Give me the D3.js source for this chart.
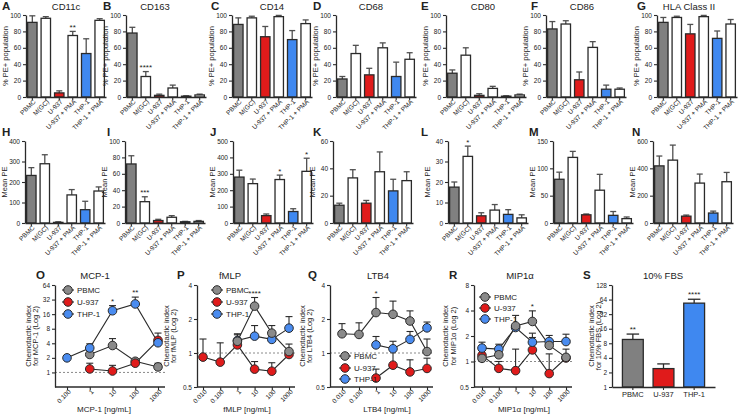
<!DOCTYPE html>
<html><head><meta charset="utf-8">
<script src="https://cdn.jsdelivr.net/npm/d3@7"></script>
<style>
body{margin:0;background:#fff}
svg{display:block}
text{font-family:"Liberation Sans Narrow","Arial Narrow","Liberation Sans",Arial,sans-serif;fill:#222}
</style>
</head><body>
<svg id="c" width="740" height="417"></svg>
<script>
// ---------- DATA ----------
const barCategories = ["PBMC","M(GC)","U-937","U-937 + PMA","THP-1","THP-1 + PMA"];
const topTitles = ["CD11c","CD163","CD14","CD68","CD80","CD86","HLA Class II"];
const topLetters = ["A","B","C","D","E","F","G"];
const midLetters = ["H","I","J","K","L","M","N"];

const cd11c = [91,96,5,75,53,93.5],    cd11cErr = [8,2,2.5,5,18,2];
const cd163 = [78,25,2,11,1,2.5],      cd163Err = [7,6,1.5,3.5,0.5,1];
const cd14  = [88.5,96.5,73.5,98,70,89.5], cd14Err = [8,2,12.5,1.5,11,4.5];
const cd68  = [22,53,27,60,25,46],     cd68Err = [3,10,8,6,17.5,8];
const cd80  = [29,51,2,10.5,1,2.5],    cd80Err = [4,9,2,2.5,0.5,1];
const cd86  = [83,89,21,60.5,9.5,9.5], cd86Err = [9,4,9.5,7,5,1.5];
const hla   = [91,97,77,98,71.5,89],   hlaErr = [6,1.5,11.5,1.5,9,5.5];

const mfiH = [232,289,3,137,65,156],   mfiHErr = [38,44,3,26,41,20];
const mfiI = [72,26,3,7,1.5,2],        mfiIErr = [10,6,1.5,2,0.5,1];
const mfiJ = [280,240,45,265,70,315],  mfiJErr = [42,28,10,27,17,80];
const mfiK = [13,33,14.5,37.5,23.5,31],mfiKErr = [1.5,6,2,14.5,8.5,6.5];
const mfiL = [17.5,32.5,3.5,6.3,4.2,2.5], mfiLErr = [2.5,5,1.5,2.7,2.3,1.5];
const mfiM = [80,120,15,60,14,8],      mfiMErr = [13,11,1.5,29,7,3];
const mfiN = [418,460,50,292,73,302],  mfiNErr = [72,110,8,66,14,68];

const pctTicks = [0,20,40,60,80,100];
const ticksH = [0,100,200,300,400], ticksI = [0,20,40,60,80,100], ticksJ = [0,100,200,300,400,500];
const ticksK = [0,20,40,60], ticksL = [0,10,20,30,40], ticksM = [0,50,100,150], ticksN = [0,200,400,600];

const sigA = ["","","","**","",""], sigB = ["","****","","","",""];
const sigI = ["","***","","","",""], sigJ = ["","","","*","","*"], sigL = ["","*","","","",""];
const noSig = ["","","","","",""];

const seriesNames = ["PBMC","U-937","THP-1"];
const dosesMCP = ["0.100","1","10","100","1000"];
const dosesFull = ["0.010","0.100","1","10","100","1000"];

const mcpPBMC = [null,2.35,3.6,1.7,1.3],  mcpPBMCHi = [null,2.9,5,1.9,1.55];
const mcpU937 = [null,1.18,1.07,1.55,4.6], mcpU937Hi = [null,1.55,1.4,1.6,6.5];
const mcpTHP1 = [2.0,3.2,18.8,26,4.1],     mcpTHP1Hi = [2.1,3.9,24,36,4.3];
const mcpSig = ["","","*","**",""];

const fmlpPBMC = [null,null,1.27,2.6,1.5,1.03], fmlpPBMCHi = [null,null,1.48,3.1,1.75,1.2];
const fmlpU937 = [0.92,0.83,1.18,0.72,0.69,0.97], fmlpU937Hi = [1.33,1.23,1.25,0.84,0.82,1.0];
const fmlpTHP1 = [null,null,1.29,1.41,1.32,1.66], fmlpTHP1Hi = [null,null,1.45,1.75,1.5,2.1];
const fmlpSig = ["","","","****","",""];

const ltbPBMC = [1.48,1.46,2.28,2.2,1.92,1.03], ltbPBMCHi = [1.82,1.85,3.1,2.88,2.36,1.33];
const ltbU937 = [null,null,0.6,0.78,0.68,0.73], ltbU937Hi = [null,null,0.72,1.05,0.87,0.9];
const ltbTHP1 = [null,null,1.18,1.09,1.32,1.67], ltbTHP1Hi = [null,null,1.4,1.27,1.55,1.88];
const ltbSig = ["","","*","","",""];

const mipPBMC = [1.09,1.2,2.63,2.97,1.55,1.12], mipPBMCHi = [1.2,1.4,3.5,3.96,1.8,1.4];
const mipU937 = [1.18,0.83,0.78,1.37,0.72,1.1], mipU937Hi = [1.25,1.0,1.4,1.92,1.23,1.1];
const mipTHP1 = [1.44,1.4,2.52,1.69,1.72,1.72], mipTHP1Hi = [1.69,1.6,2.6,2.16,2.03,2.1];
const mipSig = ["","","","*","",""];

const fbsCategories = ["PBMC","U-937","THP-1"];
const fbsValues = [9.6,2.4,54], fbsHi = [12.4,3.0,65];
const fbsSig = ["**","","****"];

// ---------- STYLE ----------
const barFill = ["#808080","#ffffff","#e01b1b","#ffffff","#3f88f0","#ffffff"];
const seriesFill = {"PBMC":"#8a8a8a","U-937":"#e01b1b","THP-1":"#4a8cf0"};
const ink = "#2a2a2a";

const svg = d3.select("#c");

function styleAxis(sel, fs){
  sel.attr("font-family",null).attr("font-size",null);
  sel.selectAll(".domain").attr("stroke",ink).attr("stroke-width",1.3);
  sel.selectAll(".tick line").attr("stroke",ink).attr("stroke-width",1.1);
  sel.selectAll(".tick text").attr("font-size",fs).attr("fill",ink);
}

function label(x,y,t,fs,opts={}){
  const el = svg.append("text").attr("x",x).attr("y",y).attr("font-size",fs).text(t)
    .attr("text-anchor",opts.anchor||"middle");
  if(opts.bold) el.attr("font-weight","bold");
  if(opts.rot) el.attr("transform",`rotate(${opts.rot},${x},${y})`);
  return el;
}

function barPanel(o){
  const g = svg.append("g");
  const x = d3.scaleBand().domain(barCategories).range([o.x0,o.x0+80]).paddingInner(0.3).paddingOuter(0.12);
  const y = d3.scaleLinear().domain([0,o.max]).range([o.yBot,o.yTop]);
  const bw = x.bandwidth();
  o.means.forEach((m,i)=>{
    const cx = x(barCategories[i])+bw/2, top = m+o.errs[i];
    g.append("line").attr("x1",cx).attr("x2",cx).attr("y1",y(m)).attr("y2",y(top)).attr("stroke","#505050").attr("stroke-width",1.3);
    g.append("line").attr("x1",cx-bw*0.32).attr("x2",cx+bw*0.32).attr("y1",y(top)).attr("y2",y(top)).attr("stroke","#505050").attr("stroke-width",1.3);
    if(o.sig[i]) g.append("text").attr("x",cx).attr("y",y(top)-1.5).attr("text-anchor","middle").attr("font-size",8).text(o.sig[i]);
  });
  g.selectAll("rect").data(o.means).join("rect")
    .attr("x",(d,i)=>x(barCategories[i])).attr("y",d=>y(d)).attr("width",bw).attr("height",d=>o.yBot-y(d))
    .attr("fill",(d,i)=>barFill[i]).attr("stroke",ink).attr("stroke-width",1.3);
  const ya = g.append("g").attr("transform",`translate(${o.x0},0)`)
    .call(d3.axisLeft(y).tickValues(o.ticks).tickSize(3).tickSizeOuter(0).tickPadding(2));
  styleAxis(ya,6.5);
  const xa = g.append("g").attr("transform",`translate(0,${o.yBot})`)
    .call(d3.axisBottom(x).tickSize(3).tickSizeOuter(0));
  styleAxis(xa,6.5);
  xa.selectAll(".tick text").attr("x",-1).attr("y",4).attr("dy","0.35em")
    .attr("text-anchor","end").attr("transform","rotate(-45)");
  label(o.x0-18,(o.yTop+o.yBot)/2,o.yLabel,7.5,{rot:-90});
  if(o.title) label(o.titleX,10,o.title,9.5);
  label(o.letterX,o.letterY,o.letter,11.5,{anchor:"start",bold:true});
}

const topX0 = [26,126,232,336,446,546,657];
const topTitleX = [66,155,272,371,483,582,689];
const topLetterX = [2,103,211,313,421,531,637];
const topMeans = [cd11c,cd163,cd14,cd68,cd80,cd86,hla];
const topErrs = [cd11cErr,cd163Err,cd14Err,cd68Err,cd80Err,cd86Err,hlaErr];
const topSig = [sigA,sigB,noSig,noSig,noSig,noSig,noSig];
topMeans.forEach((m,i)=>barPanel({x0:topX0[i],yTop:15,yBot:97,max:100,ticks:pctTicks,means:m,errs:topErrs[i],
  sig:topSig[i],title:topTitles[i],titleX:topTitleX[i],letter:topLetters[i],letterX:topLetterX[i],letterY:10,yLabel:"% PE+ population"}));

const midX0 = [25,125,233,333,448,553,653];
const midLetterX = [2,107,210,313,421,529,632];
const midMeans = [mfiH,mfiI,mfiJ,mfiK,mfiL,mfiM,mfiN];
const midErrs = [mfiHErr,mfiIErr,mfiJErr,mfiKErr,mfiLErr,mfiMErr,mfiNErr];
const midTicks = [ticksH,ticksI,ticksJ,ticksK,ticksL,ticksM,ticksN];
const midSig = [noSig,sigI,sigJ,noSig,sigL,noSig,noSig];
midMeans.forEach((m,i)=>barPanel({x0:midX0[i],yTop:141,yBot:223,max:d3.max(midTicks[i]),ticks:midTicks[i],means:m,errs:midErrs[i],
  sig:midSig[i],title:null,letter:midLetters[i],letterX:midLetterX[i],letterY:136,yLabel:"Mean PE"}));

// ---------- bottom row ----------
const yb = 387, yt = 285;
function linePanel(o){
  const g = svg.append("g");
  const x = d3.scalePoint().domain(o.doses).range([o.p0,o.p1]);
  const y = d3.scaleLog().base(2).domain(o.yDom).range([yb,yt]);
  g.append("line").attr("x1",o.x0).attr("x2",o.xEnd).attr("y1",y(1)).attr("y2",y(1))
    .attr("stroke","#8a8a8a").attr("stroke-width",1).attr("stroke-dasharray","2,2");
  const ya = g.append("g").attr("transform",`translate(${o.x0},0)`)
    .call(d3.axisLeft(y).tickValues(o.ticks).tickFormat(d=>String(d)).tickSize(3).tickSizeOuter(0).tickPadding(2));
  styleAxis(ya,6.5);
  const xa = g.append("g").attr("transform",`translate(0,${yb})`)
    .call(d3.axisBottom(x).tickSize(3).tickSizeOuter(0));
  styleAxis(xa,6.5);
  xa.select(".domain").attr("d",`M${o.x0},0H${o.xEnd}`);
  xa.selectAll(".tick text").attr("x",-1).attr("y",4).attr("dy","0.35em")
    .attr("text-anchor","end").attr("transform","rotate(-45)");
  o.order.forEach(k=>{
    const s = o.series[k];
    const pts = s.v.map((v,i)=>({d:o.doses[i],v})).filter(p=>p.v!=null);
    g.append("path").attr("d",d3.line().x(p=>x(p.d)).y(p=>y(p.v))(pts))
      .attr("fill","none").attr("stroke",ink).attr("stroke-width",1.1);
  });
  o.order.forEach(k=>{
    const s = o.series[k];
    s.v.forEach((v,i)=>{
      if(v==null) return;
      const cx = x(o.doses[i]);
      if(s.hi[i]!=null && s.hi[i]>v){
        g.append("line").attr("x1",cx).attr("x2",cx).attr("y1",y(v)).attr("y2",y(s.hi[i])).attr("stroke",ink).attr("stroke-width",1.1);
        g.append("line").attr("x1",cx-3.5).attr("x2",cx+3.5).attr("y1",y(s.hi[i])).attr("y2",y(s.hi[i])).attr("stroke",ink).attr("stroke-width",1.1);
      }
    });
  });
  o.order.forEach(k=>{
    const s = o.series[k];
    s.v.forEach((v,i)=>{
      if(v==null) return;
      g.append("circle").attr("cx",x(o.doses[i])).attr("cy",y(v)).attr("r",4.3)
        .attr("fill",seriesFill[k]).attr("stroke",ink).attr("stroke-width",1);
    });
  });
  o.sig.forEach((t,i)=>{
    if(!t) return;
    let top = d3.max(seriesNames.map(k=>o.series[k].hi[i]).filter(v=>v!=null));
    g.append("text").attr("x",x(o.doses[i])).attr("y",y(top)-2).attr("text-anchor","middle").attr("font-size",8).text(t);
  });
  seriesNames.forEach((k,j)=>{
    const ly = o.legY[j];
    g.append("line").attr("x1",o.legX-6).attr("x2",o.legX+6).attr("y1",ly).attr("y2",ly).attr("stroke",ink).attr("stroke-width",1.1);
    g.append("circle").attr("cx",o.legX).attr("cy",ly).attr("r",4.3).attr("fill",seriesFill[k]).attr("stroke",ink).attr("stroke-width",1);
    g.append("text").attr("x",o.legX+9).attr("y",ly+3).attr("font-size",8).text(k);
  });
  label(o.yLabX[0],336,"Chemotactic index",7.5,{rot:-90});
  label(o.yLabX[1],336,o.yLab2,7.5,{rot:-90});
  label(o.xLabX,412,o.xLab,8);
  label(o.titleX,279,o.title,9.5);
  label(o.letterX,279,o.letter,11.5,{anchor:"start",bold:true});
}

linePanel({x0:55,xEnd:165,p0:67,p1:158,doses:dosesMCP,yDom:[0.5,64],ticks:[1,2,4,8,16,32,64],
  series:{"PBMC":{v:mcpPBMC,hi:mcpPBMCHi},"U-937":{v:mcpU937,hi:mcpU937Hi},"THP-1":{v:mcpTHP1,hi:mcpTHP1Hi}},
  order:["PBMC","U-937","THP-1"],sig:mcpSig,legX:68,legY:[290,302,314],
  yLabX:[31,38],yLab2:"for MCP-1 (Log 2)",xLabX:104,xLab:"MCP-1 [ng/mL]",title:"MCP-1",titleX:95,letter:"O",letterX:36});

linePanel({x0:197,xEnd:295,p0:203,p1:289,doses:dosesFull,yDom:[0.5,4],ticks:[0.5,1,2,4],
  series:{"PBMC":{v:fmlpPBMC,hi:fmlpPBMCHi},"U-937":{v:fmlpU937,hi:fmlpU937Hi},"THP-1":{v:fmlpTHP1,hi:fmlpTHP1Hi}},
  order:["U-937","THP-1","PBMC"],sig:fmlpSig,legX:217,legY:[290,302,314],
  yLabX:[169,176],yLab2:"for fMLP (Log 2)",xLabX:247,xLab:"fMLP [ng/mL]",title:"fMLP",titleX:230,letter:"P",letterX:177});

linePanel({x0:330,xEnd:433,p0:342,p1:427,doses:dosesFull,yDom:[0.5,4],ticks:[0.5,1,2,4],
  series:{"PBMC":{v:ltbPBMC,hi:ltbPBMCHi},"U-937":{v:ltbU937,hi:ltbU937Hi},"THP-1":{v:ltbTHP1,hi:ltbTHP1Hi}},
  order:["U-937","THP-1","PBMC"],sig:ltbSig,legX:345,legY:[356,368,379],
  yLabX:[305,312],yLab2:"for LTB4 (Log 2)",xLabX:387,xLab:"LTB4 [ng/mL]",title:"LTB4",titleX:378,letter:"Q",letterX:308});

linePanel({x0:474,xEnd:572,p0:482,p1:566,doses:dosesFull,yDom:[0.5,8],ticks:[0.5,1,2,4,8],
  series:{"PBMC":{v:mipPBMC,hi:mipPBMCHi},"U-937":{v:mipU937,hi:mipU937Hi},"THP-1":{v:mipTHP1,hi:mipTHP1Hi}},
  order:["U-937","THP-1","PBMC"],sig:mipSig,legX:485,legY:[297,308,319],
  yLabX:[448,456],yLab2:"for MIP1\u03b1 (Log 2)",xLabX:524,xLab:"MIP1\u03b1 [ng/mL]",title:"MIP1\u03b1",titleX:520,letter:"R",letterX:449});

// S panel
(function(){
  const g = svg.append("g");
  const x = d3.scaleBand().domain(fbsCategories).range([612,715]).paddingInner(0.32).paddingOuter(0.34);
  const y = d3.scaleLog().base(2).domain([1,128]).range([yb,yt]);
  const bw = x.bandwidth();
  const fills = [barFill[0],barFill[2],barFill[4]];
  fbsValues.forEach((v,i)=>{
    const cx = x(fbsCategories[i])+bw/2;
    g.append("line").attr("x1",cx).attr("x2",cx).attr("y1",y(v)).attr("y2",y(fbsHi[i])).attr("stroke",ink).attr("stroke-width",1.3);
    g.append("line").attr("x1",cx-bw*0.3).attr("x2",cx+bw*0.3).attr("y1",y(fbsHi[i])).attr("y2",y(fbsHi[i])).attr("stroke",ink).attr("stroke-width",1.3);
    if(fbsSig[i]) g.append("text").attr("x",cx).attr("y",y(fbsHi[i])-2).attr("text-anchor","middle").attr("font-size",8).text(fbsSig[i]);
  });
  g.selectAll("rect").data(fbsValues).join("rect")
    .attr("x",(d,i)=>x(fbsCategories[i])).attr("y",d=>y(d)).attr("width",bw).attr("height",d=>yb-y(d))
    .attr("fill",(d,i)=>fills[i]).attr("stroke",ink).attr("stroke-width",1.3);
  const ya = g.append("g").attr("transform","translate(612,0)")
    .call(d3.axisLeft(y).tickValues([1,2,4,8,16,32,64,128]).tickFormat(d=>String(d)).tickSize(3).tickSizeOuter(0).tickPadding(2));
  styleAxis(ya,6.5);
  const xa = g.append("g").attr("transform",`translate(0,${yb})`)
    .call(d3.axisBottom(x).tickSize(3).tickSizeOuter(0).tickPadding(2));
  styleAxis(xa,7.5);
  label(594,336,"Chemotactic index",7.5,{rot:-90});
  label(601,336,"for 10% FBS (Log 2)",7.5,{rot:-90});
  label(663,279,"10% FBS",9.5);
  label(583,279,"S",11.5,{anchor:"start",bold:true});
})();
</script>
</body></html>
